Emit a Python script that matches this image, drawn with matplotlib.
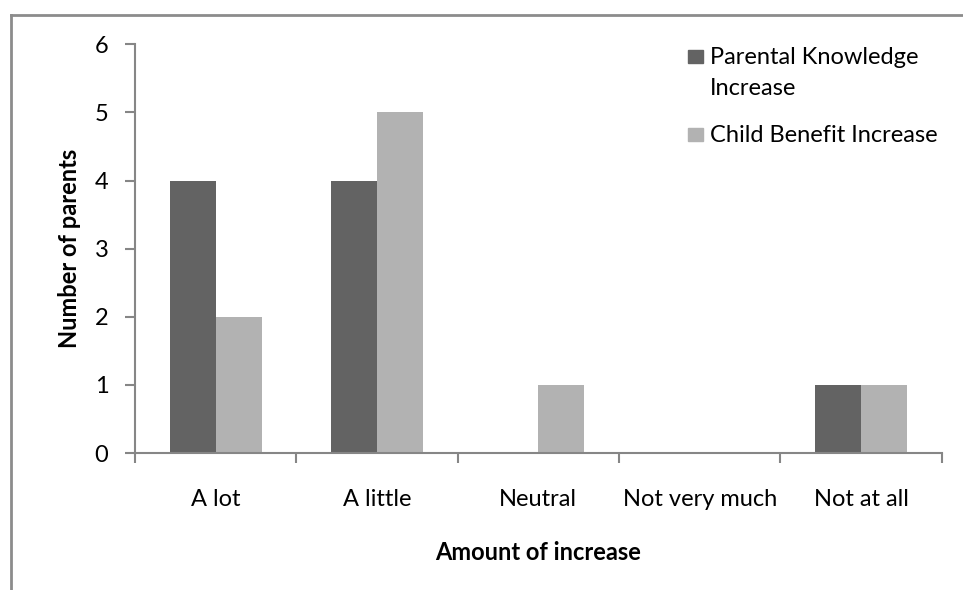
import matplotlib
matplotlib.use('Agg')

import numpy as np
import matplotlib.pyplot as plt
from matplotlib.patches import Rectangle
from matplotlib.lines import Line2D

CATEGORIES = ['A lot', 'A little', 'Neutral', 'Not very much', 'Not at all']
PARENTAL_KNOWLEDGE = [4, 4, 0, 0, 1]
CHILD_BENEFIT = [2, 5, 1, 0, 1]
SERIES_NAMES = ['Parental Knowledge\nIncrease', 'Child Benefit Increase']

DARK = '#636363'
LIGHT = '#b2b2b2'
AXIS_GREY = '#868686'
FS = 17

plt.rcParams['font.family'] = ['Lato', 'DejaVu Sans']

fig = plt.figure(figsize=(9.63, 5.90), dpi=100)
ax = fig.add_axes([0.140, 0.232, 0.838, 0.693])

x = np.arange(len(CATEGORIES))
w = 0.285
ax.bar(x - w / 2, PARENTAL_KNOWLEDGE, width=w, color=DARK)
ax.bar(x + w / 2, CHILD_BENEFIT, width=w, color=LIGHT)

ax.set_xlim(-0.5, len(CATEGORIES) - 0.5)
ax.set_ylim(0, 6)
ax.set_yticks(range(0, 7))
ax.set_xticks(x)
ax.set_xticklabels(CATEGORIES)
ax.set_xticks(np.arange(-0.5, len(CATEGORIES)), minor=True)

for s in ['top', 'right']:
    ax.spines[s].set_visible(False)
for s in ['left', 'bottom']:
    ax.spines[s].set_color(AXIS_GREY)
    ax.spines[s].set_linewidth(1.5)

ax.tick_params(axis='x', which='major', length=0, pad=26, labelsize=FS)
ax.tick_params(axis='x', which='minor', length=7, width=1.5, color=AXIS_GREY, direction='out')
ax.tick_params(axis='y', length=7, width=1.5, color=AXIS_GREY, direction='out', pad=12, labelsize=FS)

ax.set_ylabel('Number of parents', fontsize=FS, fontweight='bold', labelpad=10)
ax.set_xlabel('Amount of increase', fontsize=FS, fontweight='bold', labelpad=22)

# legend drawn by hand so the key sits beside the first line of wrapped text
legend_rows = [(DARK, SERIES_NAMES[0], 0.8915), (LIGHT, SERIES_NAMES[1], 0.7593)]
for colour, name, base in legend_rows:
    fig.add_artist(Rectangle((0.7144, base + 0.002), 0.0156, 0.022, color=colour,
                             transform=fig.transFigure))
    first, *rest = name.split('\n')
    fig.text(0.737, base, first, fontsize=FS, va='baseline', ha='left')
    for i, line in enumerate(rest, 1):
        fig.text(0.737, base - i * 31 / 590, line, fontsize=FS, va='baseline', ha='left')

# outer chart frame (left and top edges only)
fig.add_artist(Line2D([0.0114, 0.0114], [0, 0.975], color='#8c8c8c', lw=2,
                      transform=fig.transFigure))
fig.add_artist(Line2D([0.0114, 1.0], [0.975, 0.975], color='#8c8c8c', lw=2,
                      transform=fig.transFigure))

fig.savefig('out.png', dpi=100)
